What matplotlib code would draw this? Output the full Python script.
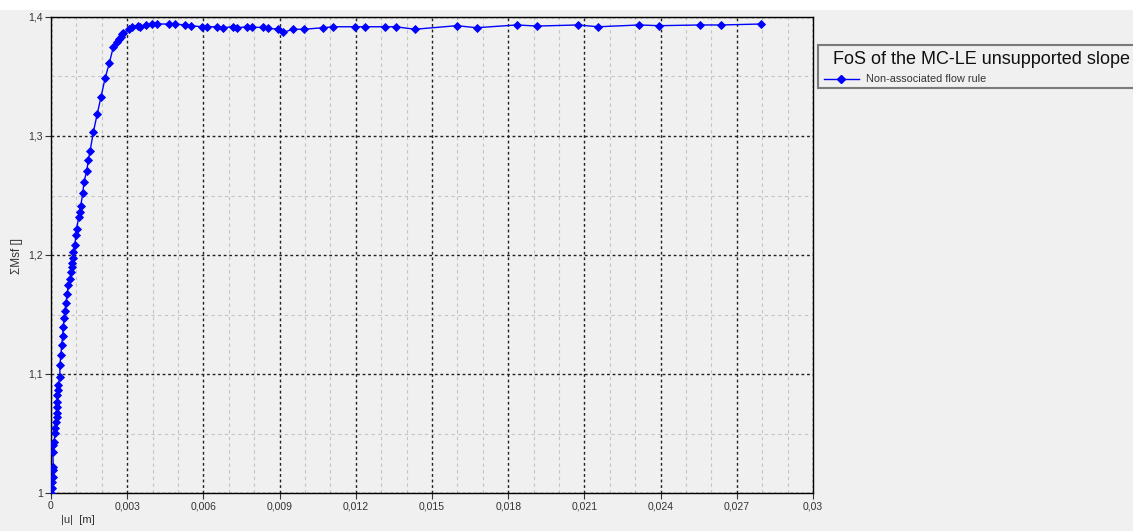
import matplotlib
matplotlib.use("Agg")
import matplotlib.pyplot as plt
from matplotlib.ticker import MultipleLocator, FuncFormatter
from matplotlib.patches import Rectangle
from matplotlib.lines import Line2D

# displacement |u| [m] and summed strength factor ΣMsf
u_disp = [
    0.00001, 0.00003, 0.00005, 0.00007, 0.00009, 0.00009, 0.00007, 0.00009,
    0.00012, 0.00016, 0.00016, 0.00020, 0.00022, 0.00022, 0.00022, 0.00025,
    0.00025, 0.00026, 0.00029, 0.00035, 0.00035, 0.00039, 0.00042, 0.00046,
    0.00048, 0.00052, 0.00055, 0.00059, 0.00064, 0.00068, 0.00075, 0.00078,
    0.00084, 0.00084, 0.00088, 0.00088, 0.00094, 0.00098, 0.00101, 0.00109,
    0.00114, 0.00117, 0.00125, 0.00130, 0.00141, 0.00147, 0.00154, 0.00167,
    0.00182, 0.00197, 0.00213, 0.00230, 0.00245, 0.00261, 0.00269, 0.00274,
    0.00278, 0.00285, 0.00308, 0.00318, 0.00344, 0.00350, 0.00374, 0.00396,
    0.00416, 0.00466, 0.00488, 0.00528, 0.00550, 0.00593, 0.00613, 0.00652,
    0.00676, 0.00715, 0.00733, 0.00773, 0.00793, 0.00833, 0.00856, 0.00895,
    0.00915, 0.00954, 0.00996, 0.01072, 0.01111, 0.01197, 0.01236, 0.01315,
    0.01357, 0.01433, 0.01597, 0.01676, 0.01833, 0.01915, 0.02074, 0.02155,
    0.02316, 0.02394, 0.02555, 0.02637, 0.02795,
]
msf = [
    1.0000, 1.0042, 1.0095, 1.0137, 1.0193, 1.0221, 1.0347, 1.0403,
    1.0431, 1.0504, 1.0546, 1.0599, 1.0641, 1.0672, 1.0725, 1.0767,
    1.0824, 1.0866, 1.0908, 1.0977, 1.1076, 1.1160, 1.1244, 1.1319,
    1.1395, 1.1471, 1.1532, 1.1599, 1.1672, 1.1748, 1.1798, 1.1860,
    1.1899, 1.1935, 1.1975, 1.2028, 1.2084, 1.2168, 1.2218, 1.2319,
    1.2364, 1.2412, 1.2518, 1.2616, 1.2708, 1.2798, 1.2876, 1.3036,
    1.3185, 1.3330, 1.3485, 1.3616, 1.3745, 1.3793, 1.3813, 1.3834,
    1.3857, 1.3868, 1.3897, 1.3913, 1.3924, 1.3918, 1.3933, 1.3941,
    1.3941, 1.3941, 1.3941, 1.3933, 1.3927, 1.3918, 1.3918, 1.3918,
    1.3910, 1.3918, 1.3910, 1.3918, 1.3913, 1.3913, 1.3905, 1.3897,
    1.3872, 1.3897, 1.3897, 1.3910, 1.3918, 1.3918, 1.3918, 1.3918,
    1.3918, 1.3897, 1.3927, 1.3910, 1.3933, 1.3924, 1.3933, 1.3918,
    1.3933, 1.3927, 1.3933, 1.3933, 1.3941,
]

LEGEND_TITLE = "FoS of the MC-LE unsupported slope"
SERIES_NAME = "Non-associated flow rule"

BG = "#f0f0f0"
BLUE = "#0000ff"
TXT = "#333333"
plt.rcParams["font.family"] = ["Liberation Sans", "DejaVu Sans"]

W, H = 1133, 531
fig = plt.figure(figsize=(W / 100, H / 100), dpi=100, facecolor=BG)
# white strip along the top edge
fig.patches.append(Rectangle((0, 1 - 10 / H), 1, 10 / H, transform=fig.transFigure,
                             facecolor="white", edgecolor="none", zorder=0))

ax = fig.add_axes([51 / W, 1 - 493 / H, (813 - 51) / W, (493 - 17) / H])
ax.set_facecolor(BG)

ax.plot(u_disp, msf, color=BLUE, linewidth=1.0, marker="D", markersize=4.2,
        markeredgewidth=0.6, zorder=3)

ax.set_xlim(0, 0.03)
ax.set_ylim(1.0, 1.4)

ax.xaxis.set_major_locator(MultipleLocator(0.003))
ax.xaxis.set_minor_locator(MultipleLocator(0.001))
ax.yaxis.set_major_locator(MultipleLocator(0.1))
ax.yaxis.set_minor_locator(MultipleLocator(0.05))


def comma_fmt(v, pos):
    s = f"{v:.3f}".rstrip("0").rstrip(".")
    return s.replace(".", ",")


ax.xaxis.set_major_formatter(FuncFormatter(comma_fmt))
ax.yaxis.set_major_formatter(FuncFormatter(comma_fmt))

ax.grid(which="major", color="#202020", linestyle=(0, (2, 2)), linewidth=1.0)
ax.grid(which="minor", color="#c4c4c4", linestyle=(0, (3, 3)), linewidth=0.8)
ax.set_axisbelow(True)

ax.tick_params(which="major", length=4, width=0.8, colors=TXT,
               labelsize=7.5, direction="out", pad=2)
ax.tick_params(which="minor", length=0)
for sp in ax.spines.values():
    sp.set_color("black")
    sp.set_linewidth(1.0)

ax.set_xlabel("|u|  [m]", fontsize=8, color=TXT)
ax.xaxis.set_label_coords((78 - 51) / 762, -(515 - 493) / 476)
ax.set_ylabel("ΣMsf []", fontsize=8.5, color=TXT)
ax.yaxis.set_label_coords((23 - 51) / 762, (493 - 256) / 476)

# legend box, running off the right edge of the figure
fig.patches.append(Rectangle((818 / W, 1 - 88 / H), 330 / W, 43 / H,
                             transform=fig.transFigure, facecolor=BG,
                             edgecolor="#7a7a7a", linewidth=1.5, zorder=4))
fig.text(833 / W, 1 - 59 / H, LEGEND_TITLE, fontsize=13, color="#111111",
         ha="left", va="center", zorder=5)
fig.lines.append(Line2D([824 / W, 859 / W], [1 - 79 / H, 1 - 79 / H],
                        transform=fig.transFigure, color=BLUE, linewidth=1.0,
                        zorder=5))
fig.lines.append(Line2D([841 / W], [1 - 79 / H], transform=fig.transFigure,
                        color=BLUE, marker="D", markersize=4.2, zorder=5))
fig.text(866 / W, 1 - 79 / H, SERIES_NAME, fontsize=7.8, color=TXT,
         ha="left", va="center", zorder=5)

fig.savefig("out.png", dpi=100, facecolor=BG)
